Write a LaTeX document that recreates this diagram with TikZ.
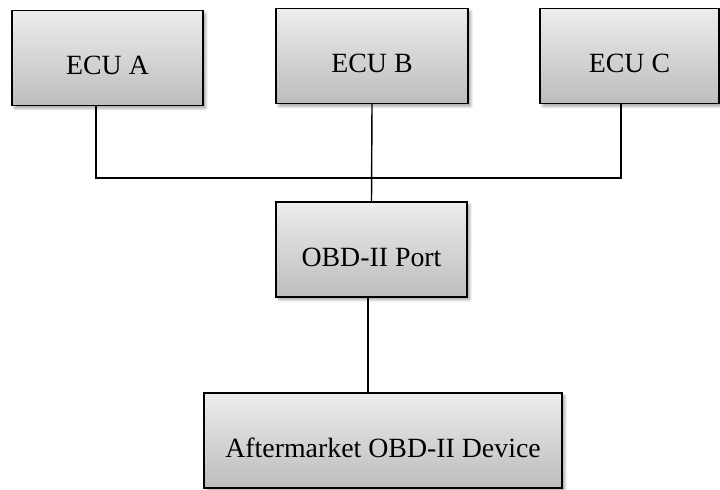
\documentclass[tikz,border=0pt]{standalone}
\usepackage{fontspec}
\setmainfont{Liberation Serif}
\usepackage{tikz}
\usetikzlibrary{shadows.blur}
\newcommand{\boxh}{95}
\newcommand{\busy}{178}
\tikzset{
  unitbox/.style={draw=black, line width=1pt, rectangle,
    top color=black!7, bottom color=black!26,
    inner sep=0pt, minimum height=\boxh*0.025cm,
    text height=24pt, text depth=0pt,
    font=\fontsize{19.8}{24}\selectfont,
    blur shadow={shadow xshift=2pt, shadow yshift=-2pt,
      shadow blur steps=6, shadow opacity=35}},
  wire/.style={draw=black, line width=1pt}
}

\begin{document}
\begin{tikzpicture}[x=0.025cm, y=-0.025cm]
    \useasboundingbox (0,0) rectangle (720,489);

    \node (ecua) at (107.5,58) [unitbox, minimum width=191*0.025cm] {ECU A};
    \node (ecub) at (372,56) [unitbox, minimum width=192*0.025cm] {ECU B};
    \node (ecuc) at (629.5,56) [unitbox, minimum width=179*0.025cm] {ECU C};
    \node (port) at (371.5,249.5) [unitbox, minimum width=191*0.025cm] {OBD-II Port};
    \node (device) at (383,440.5) [unitbox, minimum width=358*0.025cm]
      {Aftermarket OBD-II Device};

    \coordinate (busa) at (96,\busy);
    \coordinate (busc) at (621,\busy);
    \coordinate (drop) at (368,345);

    \draw [wire] (ecua.south -| busa) -- (busa) -- (busc) -- (ecuc.south -| busc);
    \draw [wire] (ecub.south) -- (port.north);
    \draw [wire] (port.south -| drop) -- (device.north -| drop);
\end{tikzpicture}
\end{document}
